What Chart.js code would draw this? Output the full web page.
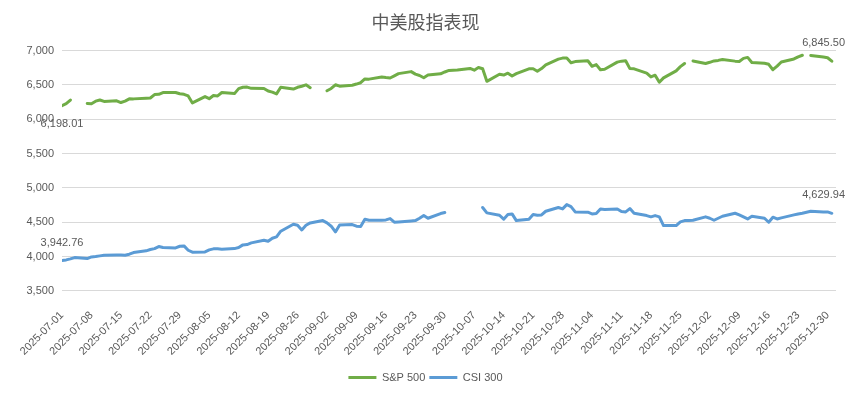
<!DOCTYPE html>
<html>
<head>
<meta charset="utf-8">
<script src="https://cdn.jsdelivr.net/npm/chart.js@4.4.1/dist/chart.umd.min.js"></script>
<style>
  html, body { margin: 0; background: #fff; }
  #wrap { width: 851px; height: 397px; position: relative; }
</style>
</head>
<body>
<div id="wrap"><canvas id="chart"></canvas></div>
<script>
// trading days: every weekday from 2025-07-01 to 2025-12-31
const startDate = "2025-07-01";
const endDate = "2025-12-31";

const xTickLabels = [
  "2025-07-01", "2025-07-08", "2025-07-15", "2025-07-22", "2025-07-29",
  "2025-08-05", "2025-08-12", "2025-08-19", "2025-08-26", "2025-09-02",
  "2025-09-09", "2025-09-16", "2025-09-23", "2025-09-30", "2025-10-07",
  "2025-10-14", "2025-10-21", "2025-10-28", "2025-11-04", "2025-11-11",
  "2025-11-18", "2025-11-25", "2025-12-02", "2025-12-09", "2025-12-16",
  "2025-12-23", "2025-12-30"
];

// S&P 500, one value per weekday (null = US market closed)
const spx = [
  6198.01, 6227.42, 6279.35, null,
  6229.98, 6225.52, 6263.26, 6280.46, 6259.75,
  6268.56, 6243.76, 6263.70, 6297.36, 6296.79,
  6305.60, 6309.62, 6358.91, 6363.35, 6388.64,
  6389.77, 6370.86, 6362.90, 6339.39,
  6238.01,
  6329.94, 6299.19, 6345.06, 6340.00, 6389.45,
  6373.45, 6445.76, 6466.58, 6468.54, 6449.80,
  6449.15, 6411.37, 6395.78, 6370.17, 6466.91,
  6439.32, 6465.94, 6481.40, 6501.86, 6460.26,
  null, 6415.54, 6448.26, 6502.08, 6481.50,
  6495.15, 6512.61, 6532.04, 6587.47, 6584.29,
  6615.28, 6606.76, 6600.35, 6631.96, 6664.36,
  6693.75, 6656.92, 6637.97, 6604.72, 6643.70,
  6661.21, 6688.46,
  6711.20, 6715.35, 6715.79,
  6740.28, 6714.59, 6753.72, 6735.11, 6552.51,
  6654.72, 6644.31, 6671.06, 6629.07, 6664.01,
  6735.13, 6735.35, 6699.40, 6738.44, 6791.69,
  6875.16, 6890.89, 6890.59, 6822.34, 6840.20,
  6851.97, 6771.55, 6796.29, 6720.32, 6728.80,
  6832.43, 6846.61, 6850.92, 6737.49, 6734.11,
  6672.41, 6617.32, 6642.16, 6538.76, 6602.99,
  6705.12, 6765.88, 6812.61, null, 6849.09,
  6812.63, 6829.37, 6849.72, 6857.12, 6870.40,
  6846.51, 6840.51, 6886.68, 6901.00, 6827.41,
  6816.51, 6800.26, 6721.43, 6774.76, 6834.50,
  6878.49, 6909.79, 6932.05, null, 6929.94,
  6905.74, 6896.24, 6845.50
];

// CSI 300, one value per weekday (null = China market closed)
const csi = [
  3942.76, 3951, 3966, 3985,
  3971, 3995, 4000, 4010, 4019,
  4024, 4024, 4019, 4034, 4058,
  4083, 4102, 4116, 4146, 4131,
  4126, 4150, 4155, 4092,
  4063,
  4068, 4097, 4112, 4112, 4107,
  4116, 4131, 4170, 4175, 4199,
  4238, 4223, 4267, 4286, 4369,
  4471, 4456, 4388, 4456, 4490,
  4524, 4490, 4442, 4359, 4461,
  4466, 4442, 4437, 4544, 4529,
  4529, 4534, 4553, 4500, 4505,
  4519, 4524, 4558, 4597, 4558,
  4626, 4640.69,
  null, null, null,
  null, null, null, 4714, 4636,
  4602, 4544, 4612, 4621, 4524,
  4544, 4612, 4602, 4607, 4660,
  4714, 4694, 4757, 4728, 4650,
  4646, 4621, 4626, 4694, 4684,
  4694, 4655, 4650, 4699, 4631,
  4597, 4578, 4597, 4578, 4451,
  4451, 4505, 4524, 4524, 4529,
  4578, 4558, 4529, 4558, 4587,
  4631, 4607, 4578, 4548, 4587,
  4558, 4500, 4573, 4548, 4563,
  4607, 4621, 4631, 4646, 4660,
  4650, 4650, 4629.94
];

const DAY = 86400000;
const t0 = Date.parse(startDate);
const dayOf = s => Math.round((Date.parse(s) - t0) / DAY);

const tradeDates = [];
for (let t = t0; t <= Date.parse(endDate); t += DAY) {
  const wd = new Date(t).getUTCDay();
  if (wd !== 0 && wd !== 6) tradeDates.push(new Date(t).toISOString().slice(0, 10));
}

const toPoints = vals => tradeDates.map((d, i) => ({ x: dayOf(d), y: vals[i] }));

const grey = "#595959";
const latin = '"Liberation Sans", Arial, "Noto Sans CJK SC", sans-serif';

// value labels on first/last points, like the Excel original
const labelSpots = [
  { ds: 0, idx: 0, dy: 18 },
  { ds: 0, idx: tradeDates.length - 1, dy: -18 },
  { ds: 1, idx: 0, dy: -18 },
  { ds: 1, idx: tradeDates.length - 1, dy: -18 }
];

const valueLabels = {
  id: "valueLabels",
  afterDatasetsDraw(chart) {
    const ctx = chart.ctx;
    ctx.save();
    ctx.font = "11px " + latin;
    ctx.fillStyle = grey;
    ctx.textAlign = "center";
    ctx.textBaseline = "middle";
    labelSpots.forEach(s => {
      const el = chart.getDatasetMeta(s.ds).data[s.idx];
      const v = chart.data.datasets[s.ds].data[s.idx].y;
      const txt = v.toLocaleString("en-US", { minimumFractionDigits: 2, maximumFractionDigits: 2 });
      const w = ctx.measureText(txt).width;
      const x = Math.min(el.x, chart.width - 6 - w / 2);
      ctx.fillText(txt, x, el.y + s.dy);
    });
    ctx.restore();
  }
};

new Chart(document.getElementById("chart"), {
  type: "line",
  data: {
    datasets: [
      {
        label: "S&P 500",
        data: toPoints(spx),
        borderColor: "#70AD47",
        backgroundColor: "#70AD47",
        borderWidth: 3,
        pointRadius: 0,
        borderJoinStyle: "round",
        borderCapStyle: "round",
        spanGaps: false
      },
      {
        label: "CSI 300",
        data: toPoints(csi),
        borderColor: "#5B9BD5",
        backgroundColor: "#5B9BD5",
        borderWidth: 3,
        pointRadius: 0,
        borderJoinStyle: "round",
        borderCapStyle: "round",
        spanGaps: false
      }
    ]
  },
  options: {
    responsive: true,
    maintainAspectRatio: false,
    animation: false,
    layout: { padding: { left: 0, right: 0, top: 0, bottom: 4 } },
    plugins: {
      title: {
        display: true,
        text: "中美股指表现",
        color: grey,
        font: { size: 18, weight: "normal", family: '"Noto Sans CJK SC", sans-serif' },
        padding: { top: 11, bottom: 18 }
      },
      legend: {
        position: "bottom",
        labels: {
          usePointStyle: true,
          pointStyle: "line",
          pointStyleWidth: 28,
          color: grey,
          padding: 4,
          font: { size: 11, family: latin }
        }
      },
      tooltip: { enabled: false }
    },
    scales: {
      x: {
        type: "linear",
        min: 0,
        max: 184,
        afterBuildTicks: s => { s.ticks = xTickLabels.map(l => ({ value: dayOf(l) })); },
        grid: { display: false },
        border: { display: false },
        ticks: {
          autoSkip: false,
          maxRotation: 45,
          minRotation: 45,
          padding: 10,
          color: grey,
          font: { size: 11, family: latin },
          callback: (v, i) => xTickLabels[i]
        }
      },
      y: {
        min: 3500,
        max: 7000,
        afterFit: s => { s.width = 62; },
        grid: { color: "#D9D9D9", lineWidth: 1, drawTicks: false },
        border: { display: false },
        ticks: {
          stepSize: 500,
          padding: 8,
          color: grey,
          font: { size: 11, family: latin },
          callback: v => v.toLocaleString("en-US")
        }
      },
      // empty right-hand spacer so the plot ends where the original does
      yRight: {
        position: "right",
        min: 0,
        max: 1,
        afterFit: s => { s.width = 15; },
        grid: { display: false, drawTicks: false },
        border: { display: false },
        ticks: { display: false }
      }
    }
  },
  plugins: [valueLabels]
});
</script>
</body>
</html>
